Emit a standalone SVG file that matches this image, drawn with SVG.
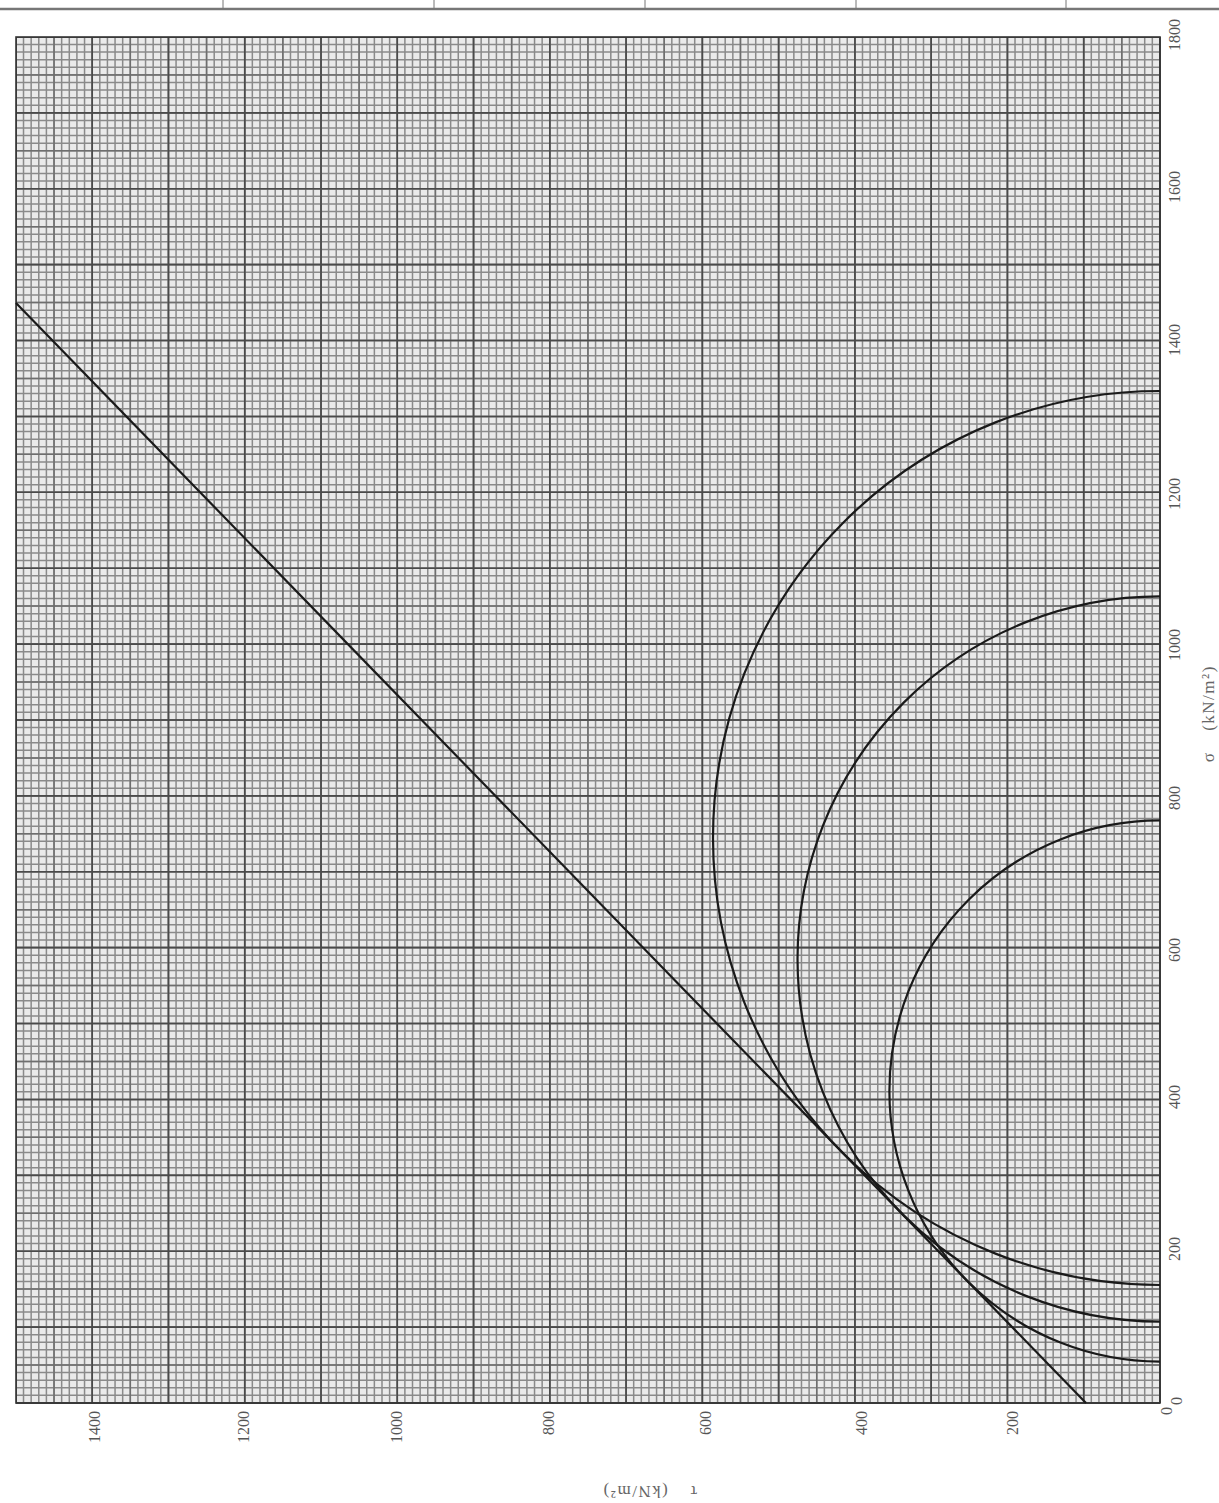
<svg xmlns="http://www.w3.org/2000/svg" width="1219" height="1503" viewBox="0 0 1219 1503">
<style>
.lbl{font-family:"Liberation Serif","Times New Roman",serif;font-size:16px;fill:#555;text-anchor:middle}
.ttl{font-family:"Liberation Serif","Times New Roman",serif;font-size:17px;fill:#666;text-anchor:middle;letter-spacing:1.5px}
.curve{fill:none;stroke:#1a1a1a;stroke-width:2.2}
</style>
<rect x="0" y="0" width="1219" height="1503" fill="#fff"/>
<g id="header" stroke="#777">
<line x1="0" y1="9" x2="1219" y2="9" stroke-width="2.5"/>
<line x1="223" y1="0" x2="223" y2="9" stroke-width="1"/>
<line x1="434" y1="0" x2="434" y2="9" stroke-width="1"/>
<line x1="645" y1="0" x2="645" y2="9" stroke-width="1"/>
<line x1="856" y1="0" x2="856" y2="9" stroke-width="1"/>
<line x1="1066" y1="0" x2="1066" y2="9" stroke-width="1"/>
</g>
<g id="grid">
<rect x="16" y="37" width="1144" height="1366" fill="#eaeaea"/>
<line x1="1160.7" y1="720" x2="16" y2="720" stroke="#8a8a8a" stroke-width="1366" stroke-dasharray="1.5 6.127"/>
<line x1="588" y1="1403.7" x2="588" y2="37" stroke="#8a8a8a" stroke-width="1144" stroke-dasharray="1.5 6.089"/>
<line x1="1160.7" y1="720" x2="16" y2="720" stroke="#6e6e6e" stroke-width="1366" stroke-dasharray="1.5 36.635"/>
<line x1="588" y1="1403.7" x2="588" y2="37" stroke="#6e6e6e" stroke-width="1144" stroke-dasharray="1.5 36.445"/>
<line x1="1160.8" y1="720" x2="16" y2="720" stroke="#4a4a4a" stroke-width="1366" stroke-dasharray="1.6 74.67"/>
<line x1="588" y1="1403.8" x2="588" y2="37" stroke="#4a4a4a" stroke-width="1144" stroke-dasharray="1.6 74.29"/>
<rect x="16" y="37" width="1144" height="1366" fill="none" stroke="#333" stroke-width="1.6"/>
</g>
<g id="connectors">
<line id="envelope" class="curve" x1="16" y1="303" x2="1086" y2="1403"/>
<path id="circle1" class="curve" d="M1160 820.4 A270.6 270.6 0 0 0 1160 1361.6"/>
<path id="circle2" class="curve" d="M1160 596.4 A362.6 362.6 0 0 0 1160 1321.6"/>
<path id="circle3" class="curve" d="M1160 391 A447 447 0 0 0 1160 1285"/>
</g>
<g id="sigma-labels">
<text class="lbl" transform="translate(1182,1401) rotate(-90)">0</text>
<text class="lbl" transform="translate(1180,1249) rotate(-90)">200</text>
<text class="lbl" transform="translate(1180,1097) rotate(-90)">400</text>
<text class="lbl" transform="translate(1180,950) rotate(-90)">600</text>
<text class="lbl" transform="translate(1180,798) rotate(-90)">800</text>
<text class="lbl" transform="translate(1180,645) rotate(-90)">1000</text>
<text class="lbl" transform="translate(1180,494) rotate(-90)">1200</text>
<text class="lbl" transform="translate(1180,340) rotate(-90)">1400</text>
<text class="lbl" transform="translate(1180,187) rotate(-90)">1600</text>
<text class="lbl" transform="translate(1180,35) rotate(-90)">1800</text>
</g>
<g id="tau-labels">
<text class="lbl" transform="translate(1172,1411) rotate(-90)">0</text>
<text class="lbl" style="text-anchor:end" transform="translate(1018,1411) rotate(-90)">200</text>
<text class="lbl" style="text-anchor:end" transform="translate(867,1411) rotate(-90)">400</text>
<text class="lbl" style="text-anchor:end" transform="translate(711,1411) rotate(-90)">600</text>
<text class="lbl" style="text-anchor:end" transform="translate(554,1411) rotate(-90)">800</text>
<text class="lbl" style="text-anchor:end" transform="translate(402,1411) rotate(-90)">1000</text>
<text class="lbl" style="text-anchor:end" transform="translate(249,1411) rotate(-90)">1200</text>
<text class="lbl" style="text-anchor:end" transform="translate(100,1411) rotate(-90)">1400</text>
</g>
<g id="axis-titles">
<text class="ttl" transform="translate(1214,757) rotate(-90)">σ</text>
<text class="ttl" transform="translate(1214,698) rotate(-90)">(kN/m²)</text>
<text class="ttl" transform="translate(693,1486) rotate(180)">τ</text>
<text class="ttl" transform="translate(635,1486) rotate(180)">(kN/m²)</text>
</g>
</svg>
